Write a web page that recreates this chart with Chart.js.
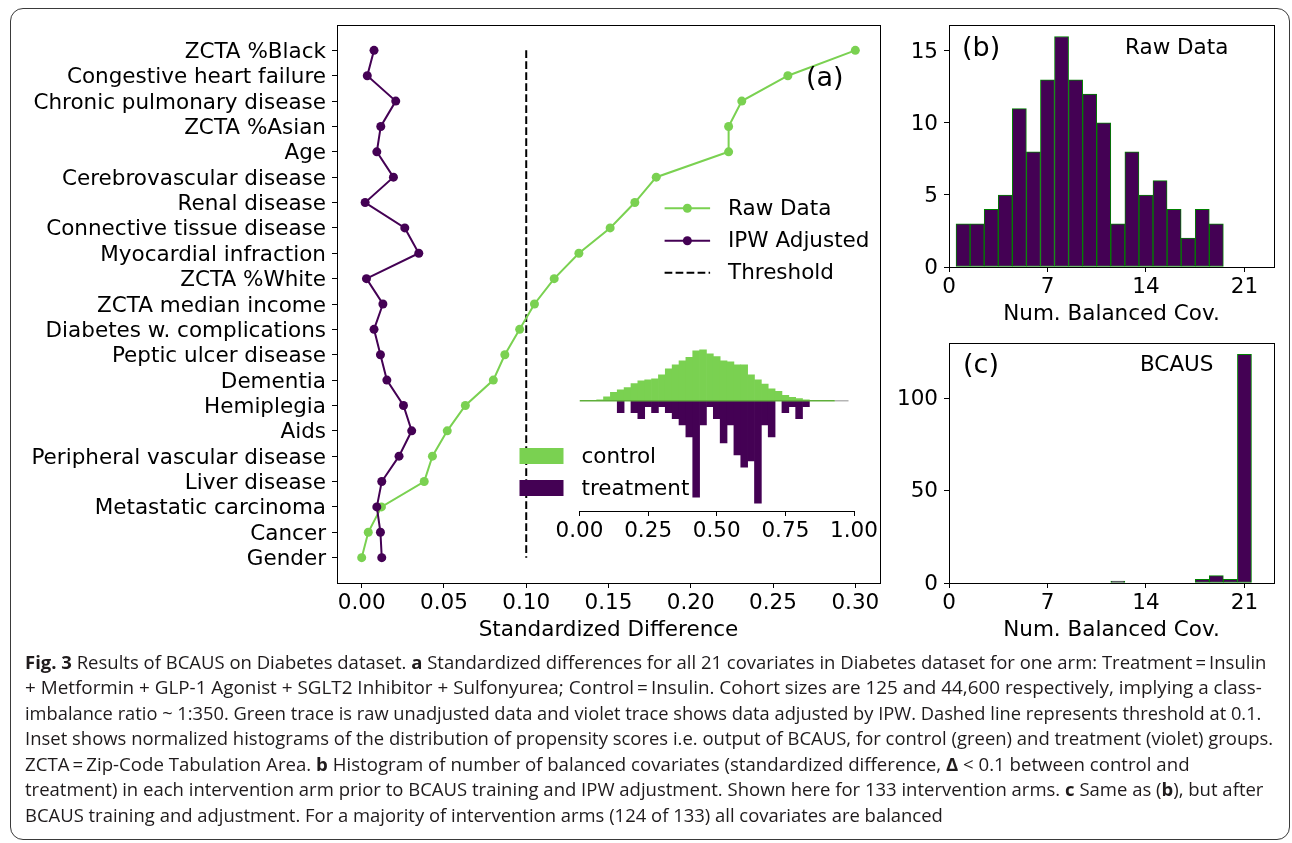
<!DOCTYPE html>
<html lang="en">
<head>
<meta charset="utf-8">
<title>BCAUS Diabetes</title>
<script src="https://cdn.jsdelivr.net/npm/chart.js@4.4.1/dist/chart.umd.min.js"></script>
<style>
  body { margin: 0; background: #fff; }
  #hoja { position: relative; width: 1292px; height: 843px; overflow: hidden; background: #fff; }
  #marco { position: absolute; left: 10px; top: 8px; width: 1280px; height: 832px; box-sizing: border-box; border: 1.5px solid #3a3a3a; border-radius: 13px; }
  canvas { position: absolute; }
  .linea { position: absolute; left: 25px; height: 26px; line-height: 26px; white-space: nowrap; font-family: 'Open Sans', sans-serif; font-size: 18px; color: #1f1b1c; transform-origin: 0 50%; }
  .linea b { font-weight: 700; }
</style>
</head>
<body>
<div id="hoja">
  <div id="marco"></div>
  <canvas id="grafico1" width="900" height="650" style="left:0;top:0"></canvas>
  <canvas id="grafico2" width="400" height="220" style="left:500px;top:330px"></canvas>
  <canvas id="grafico3" width="400" height="334" style="left:890px;top:0"></canvas>
  <canvas id="grafico4" width="400" height="340" style="left:890px;top:310px"></canvas>

  <div class="linea" data-ancho="1241" style="top:649px"><b>Fig. 3</b> Results of BCAUS on Diabetes dataset. <b>a</b> Standardized differences for all 21 covariates in Diabetes dataset for one arm: Treatment&#8201;=&#8201;Insulin</div>
  <div class="linea" data-ancho="1237" style="top:674px">+ Metformin + GLP-1 Agonist + SGLT2 Inhibitor + Sulfonyurea; Control&#8201;=&#8201;Insulin. Cohort sizes are 125 and 44,600 respectively, implying a class-</div>
  <div class="linea" data-ancho="1236" style="top:700px">imbalance ratio ~ 1:350. Green trace is raw unadjusted data and violet trace shows data adjusted by IPW. Dashed line represents threshold at 0.1.</div>
  <div class="linea" data-ancho="1248" style="top:725px">Inset shows normalized histograms of the distribution of propensity scores i.e. output of BCAUS, for control (green) and treatment (violet) groups.</div>
  <div class="linea" data-ancho="1165" style="top:751px">ZCTA&#8201;=&#8201;Zip-Code Tabulation Area. <b>b</b> Histogram of number of balanced covariates (standardized difference, <b>&Delta;</b> &lt; 0.1 between control and</div>
  <div class="linea" data-ancho="1238" style="top:776px">treatment) in each intervention arm prior to BCAUS training and IPW adjustment. Shown here for 133 intervention arms. <b>c</b> Same as (<b>b</b>), but after</div>
  <div class="linea" data-ancho="918" style="top:802px">BCAUS training and adjustment. For a majority of intervention arms (124 of 133) all covariates are balanced</div>
</div>

<script>
// (a) diferencias estandarizadas por covariable
const covariables = ['ZCTA %Black', 'Congestive heart failure', 'Chronic pulmonary disease', 'ZCTA %Asian', 'Age',
  'Cerebrovascular disease', 'Renal disease', 'Connective tissue disease', 'Myocardial infraction', 'ZCTA %White',
  'ZCTA median income', 'Diabetes w. complications', 'Peptic ulcer disease', 'Dementia', 'Hemiplegia', 'Aids',
  'Peripheral vascular disease', 'Liver disease', 'Metastatic carcinoma', 'Cancer', 'Gender']
const datosCrudos = [0.300, 0.259, 0.231, 0.223, 0.223, 0.179, 0.166, 0.151, 0.132, 0.117, 0.105,
  0.096, 0.087, 0.080, 0.063, 0.052, 0.043, 0.038, 0.012, 0.004, 0.000]
const ipwAjustado = [0.0075, 0.0034, 0.0207, 0.0116, 0.0092, 0.0193, 0.0021, 0.0262, 0.0347, 0.0029, 0.0129,
  0.0075, 0.0114, 0.0153, 0.0254, 0.0304, 0.0227, 0.0122, 0.0092, 0.0114, 0.0122]
const umbral = 0.1
const ticksDif = [0, 0.05, 0.10, 0.15, 0.20, 0.25, 0.30]

// inset: histogramas de propension
const binsPropension = [0.075, 0.100, 0.125, 0.150, 0.175, 0.200, 0.225, 0.250, 0.275, 0.300, 0.325,
  0.350, 0.375, 0.400, 0.425, 0.450, 0.475, 0.500, 0.525, 0.550, 0.575, 0.600, 0.625, 0.650, 0.675,
  0.700, 0.725, 0.750, 0.775, 0.800, 0.825]
const densidadControl = [0.04, 0.21, 0.44, 0.58, 0.69, 0.90, 1.05, 1.11, 1.16, 1.37, 1.69,
  1.90, 2.11, 2.30, 2.64, 2.69, 2.48, 2.34, 2.11, 2.06, 1.90, 1.90, 1.37, 1.11, 0.88,
  0.63, 0.49, 0.28, 0.18, 0.11, 0.05]
const conteoTratamiento = [0, 0, 0, 2, 0, 2, 3, 1, 2, 1, 2,
  3, 4, 6, 16, 4, 1, 3, 7, 4, 9, 11, 10, 17, 4,
  6, 0, 2, 1, 3, 1]
const ticksInset = [0, 0.25, 0.5, 0.75, 1]

// (b) y (c) numero de covariables balanceadas
const numBalanceadas = [1, 2, 3, 4, 5, 6, 7, 8, 9, 10, 11, 12, 13, 14, 15, 16, 17, 18, 19, 20, 21]
const conteoCrudo = [3, 3, 4, 5, 11, 8, 13, 16, 13, 12, 10, 3, 8, 5, 6, 4, 2, 4, 3, 0, 0]
const conteoBcaus = [0, 0, 0, 0, 0, 0, 0, 0, 0, 0, 0, 1, 0, 0, 0, 0, 0, 2, 4, 2, 124]
const ticksBalanceadas = [0, 7, 14, 21]

const verde = '#7ad151'
const morado = '#440154'
const fuente = "'DejaVu Sans', sans-serif"

// caja completa + textos sueltos (a), (b), (c)...
const marco = {
  id: 'marco',
  afterDatasetsDraw(chart, args, opts) {
    const { ctx, chartArea: a } = chart
    ctx.save()
    if (opts.caja) {
      ctx.strokeStyle = '#000'
      ctx.lineWidth = 1
      const l = Math.round(a.left) + 0.5, t = Math.round(a.top) + 0.5
      ctx.strokeRect(l, t, Math.round(a.right) - Math.round(a.left), Math.round(a.bottom) - Math.round(a.top))
    }
    ;(opts.textos || []).forEach(t => {
      ctx.font = t.size + 'px ' + fuente
      ctx.fillStyle = '#000'
      ctx.textBaseline = 'middle'
      ctx.textAlign = 'left'
      ctx.fillText(t.texto, a.left + t.dx, a.top + t.dy)
    })
    ctx.restore()
  }
}

const leyenda = {
  id: 'leyenda',
  afterDraw(chart, args, opts) {
    if (!opts.items) return
    const { ctx, chartArea: a } = chart
    ctx.save()
    opts.items.forEach(it => {
      const y = a.top + it.dy
      const x = a.left + it.dx
      if (it.parche) {
        ctx.fillStyle = it.color
        ctx.fillRect(x, y - 8, 44, 16)
      } else {
        ctx.strokeStyle = it.color
        ctx.lineWidth = 2
        ctx.setLineDash(it.guiones || [])
        ctx.beginPath()
        ctx.moveTo(x, y)
        ctx.lineTo(x + 45.5, y)
        ctx.stroke()
        ctx.setLineDash([])
        if (it.marcador) {
          ctx.fillStyle = it.color
          ctx.beginPath()
          ctx.arc(x + 22.75, y, 4.5, 0, Math.PI * 2)
          ctx.fill()
        }
      }
      ctx.fillStyle = '#000'
      ctx.font = '21.5px ' + fuente
      ctx.textBaseline = 'middle'
      ctx.textAlign = 'left'
      ctx.fillText(it.texto, a.left + it.dxTexto, y + 1)
    })
    ctx.restore()
  }
}

const ticksNegros = { color: '#000', font: { family: fuente, size: 21.5 }, maxRotation: 0, autoSkip: false }
const marcasEje = { display: true, drawOnChartArea: false, drawTicks: true, tickLength: 5, color: '#000' }

// ---- (a)
const ctxg1 = document.getElementById('grafico1').getContext('2d')
const grafico1 = new Chart(ctxg1, {
  type: 'scatter',
  data: {
    datasets: [
      {
        label: 'Raw Data',
        data: datosCrudos.map((v, i) => ({ x: v, y: i })),
        showLine: true,
        borderColor: verde,
        borderWidth: 2,
        pointBackgroundColor: verde,
        pointBorderColor: verde,
        pointBorderWidth: 0,
        pointRadius: 4.5,
        order: 2
      },
      {
        label: 'IPW Adjusted',
        data: ipwAjustado.map((v, i) => ({ x: v, y: i })),
        showLine: true,
        borderColor: morado,
        borderWidth: 2,
        pointBackgroundColor: morado,
        pointBorderColor: morado,
        pointBorderWidth: 0,
        pointRadius: 4.5,
        order: 1
      },
      {
        label: 'Threshold',
        data: [{ x: umbral, y: 0 }, { x: umbral, y: covariables.length - 1 }],
        showLine: true,
        borderColor: '#000',
        borderWidth: 2,
        borderDash: [7.7, 3.3],
        pointRadius: 0,
        order: 3
      }
    ]
  },
  options: {
    responsive: false,
    animation: false,
    layout: { padding: { left: 0, top: 25, right: 20, bottom: 0 } },
    plugins: {
      legend: { display: false },
      tooltip: { enabled: false },
      marco: { caja: true, textos: [{ texto: '(a)', dx: 469, dy: 54, size: 27 }] },
      leyenda: {
        items: [
          { texto: 'Raw Data', color: verde, marcador: true, dx: 327.6, dxTexto: 391, dy: 183.3 },
          { texto: 'IPW Adjusted', color: morado, marcador: true, dx: 327.6, dxTexto: 391, dy: 215.7 },
          { texto: 'Threshold', color: '#000', guiones: [7.7, 3.3], dx: 327.6, dxTexto: 391, dy: 247.7 }
        ]
      }
    },
    scales: {
      x: {
        type: 'linear',
        min: -0.015,
        max: 0.315,
        afterBuildTicks: s => { s.ticks = ticksDif.map(v => ({ value: v })) },
        afterFit: s => { s.height = 67 },
        ticks: { ...ticksNegros, padding: 3, callback: v => v.toFixed(2) },
        grid: marcasEje,
        border: { display: false },
        title: { display: true, text: 'Standardized Difference', color: '#000', font: { family: fuente, size: 21.5 }, padding: { top: 0, bottom: 7 } }
      },
      y: {
        type: 'linear',
        reverse: true,
        min: -1,
        max: 21,
        afterBuildTicks: s => { s.ticks = covariables.map((c, i) => ({ value: i })) },
        afterFit: s => { s.width = 337 },
        ticks: { ...ticksNegros, padding: 6, labelOffset: 2, callback: v => covariables[v] },
        grid: marcasEje,
        border: { display: false }
      }
    }
  },
  plugins: [marco, leyenda]
})

// ---- inset
const anchoBin = binsPropension[1] - binsPropension[0]
const totalTratamiento = conteoTratamiento.reduce((s, c) => s + c, 0)
const ctxg2 = document.getElementById('grafico2').getContext('2d')
const grafico2 = new Chart(ctxg2, {
  type: 'bar',
  data: {
    datasets: [
      {
        type: 'line',
        data: [{ x: 0, y: 0 }, { x: 0.93, y: 0 }],
        borderColor: '#5fae3a',
        borderWidth: 1.5,
        pointRadius: 0,
        order: 0
      },
      {
        type: 'line',
        data: [{ x: 0.93, y: 0 }, { x: 0.98, y: 0 }],
        borderColor: '#b5b5b5',
        borderWidth: 1.5,
        pointRadius: 0,
        order: 0
      },
      {
        label: 'control',
        data: binsPropension.map((b, i) => ({ x: b, y: densidadControl[i] })),
        backgroundColor: verde,
        borderWidth: 0,
        grouped: false,
        barPercentage: 1,
        categoryPercentage: 1,
        order: 1
      },
      {
        label: 'treatment',
        data: binsPropension.map((b, i) => ({ x: b, y: -conteoTratamiento[i] / (totalTratamiento * anchoBin) })),
        backgroundColor: morado,
        borderWidth: 0,
        grouped: false,
        barPercentage: 1,
        categoryPercentage: 1,
        order: 1
      }
    ]
  },
  options: {
    responsive: false,
    animation: false,
    layout: { padding: { left: 79.5, top: 12.2, right: 46, bottom: 0 } },
    plugins: {
      legend: { display: false },
      tooltip: { enabled: false },
      leyenda: {
        items: [
          { texto: 'control', color: verde, parche: true, dx: -60, dxTexto: 2, dy: 113.8 },
          { texto: 'treatment', color: morado, parche: true, dx: -60, dxTexto: 2, dy: 145.8 }
        ]
      }
    },
    scales: {
      x: {
        type: 'linear',
        min: 0,
        max: 1,
        offset: false,
        afterBuildTicks: s => { s.ticks = ticksInset.map(v => ({ value: v })) },
        afterFit: s => { s.height = 39 },
        ticks: { ...ticksNegros, padding: 3, callback: v => v.toFixed(2) },
        grid: { ...marcasEje, offset: false },
        border: { display: true, color: '#000', width: 1 }
      },
      y: { display: false, min: -5.85, max: 3.1 }
    }
  },
  plugins: [leyenda]
})

// ---- (b) y (c)
function histograma(id, conteos, maxY, ticksY, arriba, textos) {
  const ctx = document.getElementById(id).getContext('2d')
  return new Chart(ctx, {
    type: 'bar',
    data: {
      datasets: [{
        data: numBalanceadas.map((n, i) => ({ x: n, y: conteos[i] })),
        backgroundColor: morado,
        borderColor: 'green',
        borderWidth: 1,
        borderSkipped: false,
        barPercentage: 1,
        categoryPercentage: 1
      }]
    },
    options: {
      responsive: false,
      animation: false,
      layout: { padding: { left: 0, top: arriba, right: 16, bottom: 0 } },
      plugins: {
        legend: { display: false },
        tooltip: { enabled: false },
        marco: { caja: true, textos: textos }
      },
      scales: {
        x: {
          type: 'linear',
          min: 0,
          max: 23.1,
          offset: false,
          afterBuildTicks: s => { s.ticks = ticksBalanceadas.map(v => ({ value: v })) },
          afterFit: s => { s.height = 67 },
          ticks: { ...ticksNegros, padding: 3 },
          grid: { ...marcasEje, offset: false },
          border: { display: false },
          title: { display: true, text: 'Num. Balanced Cov.', color: '#000', font: { family: fuente, size: 21.5 }, padding: { top: 0, bottom: 7 } }
        },
        y: {
          min: 0,
          max: maxY,
          afterBuildTicks: s => { s.ticks = ticksY.map(v => ({ value: v })) },
          afterFit: s => { s.width = 59 },
          ticks: { ...ticksNegros, padding: 6, labelOffset: 1 },
          grid: marcasEje,
          border: { display: false }
        }
      }
    },
    plugins: [marco]
  })
}

const grafico3 = histograma('grafico3', conteoCrudo, 16.8, [0, 5, 10, 15], 25,
  [{ texto: '(b)', dx: 13, dy: 24, size: 27 }, { texto: 'Raw Data', dx: 176, dy: 23, size: 21.5 }])
const grafico4 = histograma('grafico4', conteoBcaus, 130.2, [0, 50, 100], 33,
  [{ texto: '(c)', dx: 14, dy: 23, size: 27 }, { texto: 'BCAUS', dx: 191, dy: 22, size: 21.5 }])

// ajustar el ancho de cada linea del pie de figura
function ajustarLineas() {
  document.querySelectorAll('.linea').forEach(el => {
    el.style.transform = 'none'
    const w = el.offsetWidth
    el.style.transform = 'scaleX(' + (el.dataset.ancho / w) + ')'
  })
}
ajustarLineas()
document.fonts.ready.then(ajustarLineas)
</script>
</body>
</html>
